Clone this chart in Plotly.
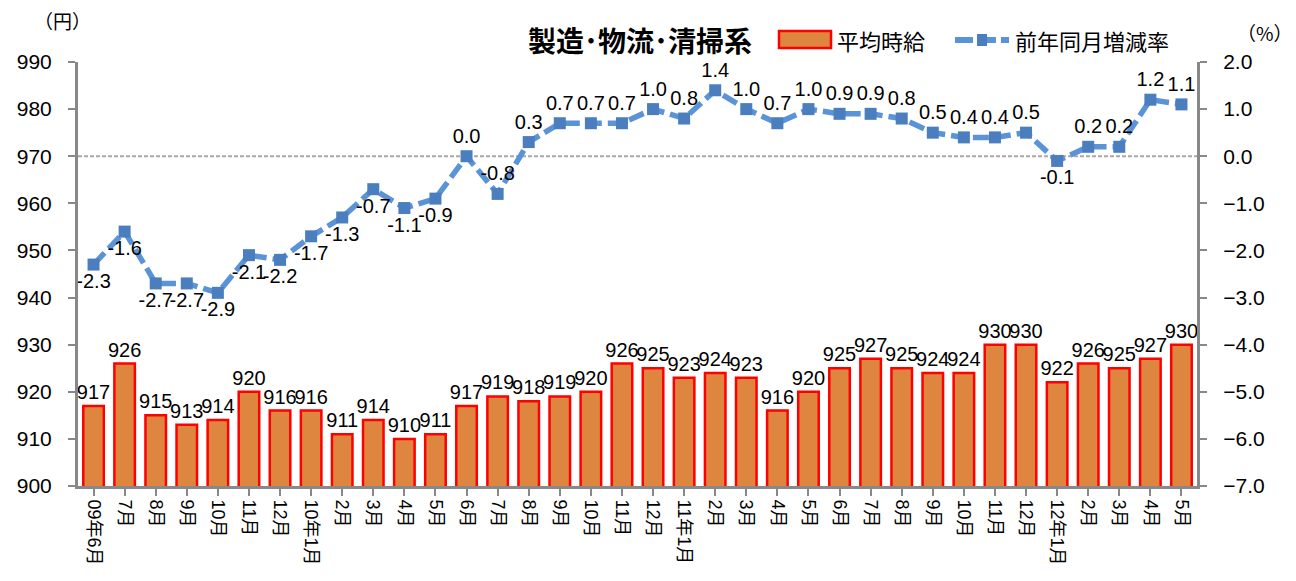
import plotly.graph_objects as go

categories = ["09年6月", "7月", "8月", "9月", "10月", "11月", "12月",
              "10年1月", "2月", "3月", "4月", "5月", "6月", "7月", "8月", "9月", "10月", "11月", "12月",
              "11年1月", "2月", "3月", "4月", "5月", "6月", "7月", "8月", "9月", "10月", "11月", "12月",
              "12年1月", "2月", "3月", "4月", "5月"]
wage = [917, 926, 915, 913, 914, 920, 916, 916, 911, 914, 910, 911, 917, 919, 918, 919, 920, 926,
        925, 923, 924, 923, 916, 920, 925, 927, 925, 924, 924, 930, 930, 922, 926, 925, 927, 930]
yoy = [-2.3, -1.6, -2.7, -2.7, -2.9, -2.1, -2.2, -1.7, -1.3, -0.7, -1.1, -0.9, 0.0, -0.8, 0.3, 0.7,
       0.7, 0.7, 1.0, 0.8, 1.4, 1.0, 0.7, 1.0, 0.9, 0.9, 0.8, 0.5, 0.4, 0.4, 0.5, -0.1, 0.2, 0.2, 1.2, 1.1]
yoy_pos = ["bottom center", "bottom center", "bottom center", "bottom center", "bottom center",
           "bottom center", "bottom center", "bottom center", "bottom center", "bottom center",
           "bottom center", "bottom center", "top center", "top center", "top center", "top center",
           "top center", "top center", "top center", "top center", "top center", "top center",
           "top center", "top center", "top center", "top center", "top center", "top center",
           "top center", "top center", "top center", "bottom center", "top center", "top center",
           "top center", "top center"]

x = list(range(len(categories)))
FONT = "Liberation Sans, Arial, Noto Sans CJK JP, sans-serif"
CJK = "Noto Sans CJK JP"
BAR_FILL = "#DE8640"
BAR_LINE = "#FF0000"
LINE_C = "#5B93D8"
MARK_C = "#4A7EBF"
DASH = "16px,6px"

# page has an 8px body margin; work in screen coordinates and convert
OFF = 8
W, H = 1288, 573
SL, SR, ST, SB = 78, 1197, 62, 486          # plot area in screen pixels
L, T = SL - OFF, ST - OFF
R, B = W - (SR - OFF), H - (SB - OFF)
PW, PH = SR - SL, SB - ST


def px(xs):
    return (xs - SL) / PW


def py(ys):
    return 1 + (ST - ys) / PH


fig = go.Figure()
fig.add_trace(go.Bar(
    x=x, y=wage, name="平均時給", width=0.66,
    marker=dict(color=BAR_FILL, line=dict(color=BAR_LINE, width=2.5)),
    text=[str(v) for v in wage], textposition="outside", cliponaxis=False,
    constraintext="none",
    textfont=dict(size=20, color="#000", family=FONT),
))
fig.add_trace(go.Scatter(
    x=x, y=yoy, name="前年同月増減率", yaxis="y2", mode="lines+markers+text",
    line=dict(color=LINE_C, width=5.5, dash=DASH),
    marker=dict(symbol="square", size=12, color=MARK_C),
    text=[f"{v:.1f}" for v in yoy], textposition=yoy_pos, cliponaxis=False,
    textfont=dict(size=20, color="#000", family=FONT),
))

fig.add_shape(type="line", xref="paper", x0=0, x1=1, yref="y2", y0=0, y1=0,
              line=dict(color="#A8A8A8", width=2, dash="4px,2px"), layer="below")

axis_common = dict(showline=True, linecolor="#888", linewidth=3, ticks="outside",
                   tickcolor="#888", ticklen=7, tickwidth=2, showgrid=False,
                   zeroline=False, automargin=False)

fig.update_layout(
    width=W, height=H,
    margin=dict(l=L, r=R, t=T, b=B),
    plot_bgcolor="white", paper_bgcolor="white",
    font=dict(family=FONT, size=18, color="#000"),
    showlegend=False,
    xaxis=dict(tickvals=x, ticktext=categories, tickangle=90, range=[-0.5, len(x) - 0.5],
               tickfont=dict(size=18, family=FONT), **axis_common),
    yaxis=dict(range=[900, 990], dtick=10, tickfont=dict(size=21), ticklabelstandoff=12,
               **axis_common),
    yaxis2=dict(range=[-7, 2], dtick=1, overlaying="y", side="right", tickformat=".1f",
                tickfont=dict(size=21), ticklabelstandoff=12, **axis_common),
)

# Title
fig.add_annotation(text="<b>製造･物流･清掃系</b>", xref="paper", yref="paper",
                   x=px(754), y=py(40), xanchor="right", yanchor="middle", showarrow=False,
                   font=dict(size=28, family=CJK, color="#000"))
# Manual legend: bar swatch
fig.add_shape(type="rect", xref="paper", yref="paper", x0=px(779), x1=px(831),
              y0=py(48), y1=py(31), fillcolor=BAR_FILL, line=dict(color=BAR_LINE, width=2.5))
fig.add_annotation(text="平均時給", xref="paper", yref="paper", x=px(835), y=py(40),
                   xanchor="left", yanchor="middle", showarrow=False,
                   font=dict(size=22, family=CJK, color="#000"))
# Line swatch
fig.add_shape(type="line", xref="paper", yref="paper", x0=px(955), x1=px(1009),
              y0=py(40), y1=py(40), line=dict(color=LINE_C, width=6, dash="18px,5px"))
fig.add_shape(type="rect", xref="paper", yref="paper", x0=px(977), x1=px(987),
              y0=py(46), y1=py(34), fillcolor=MARK_C, line=dict(width=0))
fig.add_annotation(text="前年同月増減率", xref="paper", yref="paper", x=px(1013), y=py(40),
                   xanchor="left", yanchor="middle", showarrow=False,
                   font=dict(size=22, family=CJK, color="#000"))
# Axis unit labels
fig.add_annotation(text="（円）", xref="paper", yref="paper", x=px(62), y=py(21),
                   xanchor="center", yanchor="middle", showarrow=False,
                   font=dict(size=19, family=CJK))
fig.add_annotation(text="（%）", xref="paper", yref="paper", x=px(1265), y=py(32),
                   xanchor="center", yanchor="middle", showarrow=False,
                   font=dict(size=19, family=CJK))

fig.write_html("out.html")
